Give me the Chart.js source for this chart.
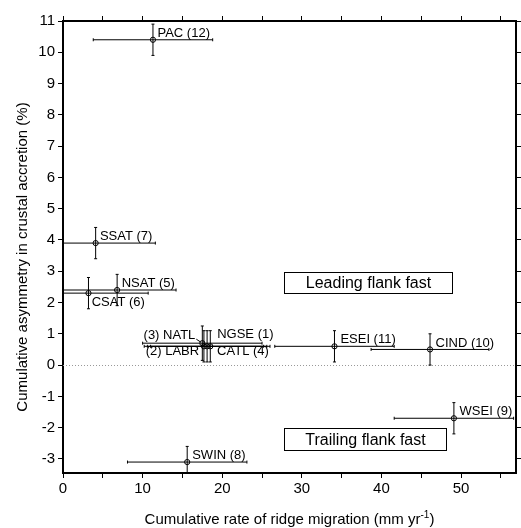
<!DOCTYPE html>
<html>
<head>
<meta charset="utf-8">
<script src="https://cdn.jsdelivr.net/npm/chart.js@4.4.1/dist/chart.umd.min.js"></script>
<style>
  html, body { margin: 0; padding: 0; background: #fff; }
  #wrap { width: 521px; height: 528px; }
</style>
</head>
<body>
<div id="wrap"><canvas id="chart" width="521" height="528"></canvas></div>
<script>
/* ---------- Data ---------- */
const sites = ['PAC (12)', 'SSAT (7)', 'NSAT (5)', 'CSAT (6)', '(3) NATL', '(2) LABR',
               'NGSE (1)', 'CATL (4)', 'ESEI (11)', 'CIND (10)', 'WSEI (9)', 'SWIN (8)'];
const rate    = [11.3, 4.1, 6.8, 3.2, 17.5, 17.7, 18.5, 18.1, 34.1, 46.1, 49.1, 15.6];
const rateErr = [7.5, 7.5, 7.4, 7.5, 7.5, 7.5, 7.5, 7.5, 7.5, 7.4, 7.5, 7.5];
const asym    = [10.4, 3.9, 2.4, 2.3, 0.7, 0.6, 0.6, 0.6, 0.6, 0.5, -1.7, -3.1];
const asymErr = [0.5, 0.5, 0.5, 0.5, 0.55, 0.5, 0.5, 0.5, 0.5, 0.5, 0.5, 0.5];

const xTicks = [0, 5, 10, 15, 20, 25, 30, 35, 40, 45, 50, 55];
const yTicks = [-3, -2, -1, 0, 1, 2, 3, 4, 5, 6, 7, 8, 9, 10, 11];

/* ---------- Label placement (pixel offsets from the point) ---------- */
const labelPos = [
    [4.5, -2.5, 'left'], [4.3, -3, 'left'], [4.5, -3.2, 'left'], [3.2, 13, 'left'],
    [-7, -4.5, 'right'], [-4.8, 8.8, 'right'], [6.9, -7.9, 'left'], [10, 8.8, 'left'],
    [5.9, -2.9, 'left'], [5.6, -2.1, 'left'], [5.7, -3.2, 'left'], [5, -3, 'left']
];
const boxes = [
    { text: 'Leading flank fast',  x0: 27.7, x1: 48.8, y0: 2.98,  y1: 2.32 },
    { text: 'Trailing flank fast', x0: 27.7, x1: 48.1, y0: -2.02, y1: -2.70 }
];

const FONT = '"Liberation Sans", Arial, sans-serif';

/* ---------- Plugin: error bars, zero line, labels, boxes, titles ---------- */
const extras = {
    id: 'extras',
    beforeDatasetsDraw(chart) {
        const { ctx, chartArea: a, scales: { x, y } } = chart;
        ctx.save();
        ctx.beginPath();
        ctx.rect(a.left, a.top, a.right - a.left, a.bottom - a.top);
        ctx.clip();

        // dotted zero line
        const y0 = Math.round(y.getPixelForValue(0)) + 0.5;
        ctx.strokeStyle = '#999';
        ctx.lineWidth = 1;
        ctx.setLineDash([1, 2]);
        ctx.beginPath();
        ctx.moveTo(a.left, y0);
        ctx.lineTo(a.right, y0);
        ctx.stroke();
        ctx.setLineDash([]);

        // error bars
        ctx.strokeStyle = '#000';
        ctx.lineWidth = 1;
        rate.forEach((r, i) => {
            const px = x.getPixelForValue(r);
            const py = y.getPixelForValue(asym[i]);
            const xl = x.getPixelForValue(r - rateErr[i]);
            const xr = x.getPixelForValue(r + rateErr[i]);
            const yt = y.getPixelForValue(asym[i] + asymErr[i]);
            const yb = y.getPixelForValue(asym[i] - asymErr[i]);
            ctx.beginPath();
            ctx.moveTo(xl, py); ctx.lineTo(xr, py);
            ctx.moveTo(xl, py - 1.5); ctx.lineTo(xl, py + 1.5);
            ctx.moveTo(xr, py - 1.5); ctx.lineTo(xr, py + 1.5);
            ctx.moveTo(px, yt); ctx.lineTo(px, yb);
            ctx.moveTo(px - 1.5, yt); ctx.lineTo(px + 1.5, yt);
            ctx.moveTo(px - 1.5, yb); ctx.lineTo(px + 1.5, yb);
            ctx.stroke();
        });
        ctx.restore();
    },
    afterDraw(chart) {
        const { ctx, chartArea: a, scales: { x, y } } = chart;
        ctx.save();
        ctx.fillStyle = '#000';
        ctx.strokeStyle = '#000';
        ctx.lineWidth = 1;

        // point labels
        ctx.font = '13px ' + FONT;
        ctx.textBaseline = 'alphabetic';
        sites.forEach((s, i) => {
            const px = x.getPixelForValue(rate[i]);
            const py = y.getPixelForValue(asym[i]);
            const [dx, dy, al] = labelPos[i];
            ctx.textAlign = al;
            ctx.fillText(s, px + dx, py + dy);
        });
        // leader for NATL
        {
            const px = x.getPixelForValue(rate[4]);
            const py = y.getPixelForValue(asym[4]);
            ctx.beginPath();
            ctx.moveTo(px - 6, py - 4);
            ctx.lineTo(px - 1.5, py - 1);
            ctx.stroke();
        }

        // annotation boxes
        ctx.font = '16px ' + FONT;
        ctx.textAlign = 'center';
        ctx.textBaseline = 'middle';
        boxes.forEach(b => {
            const l = Math.round(x.getPixelForValue(b.x0)) + 0.5;
            const r = Math.round(x.getPixelForValue(b.x1)) + 0.5;
            const t = Math.round(y.getPixelForValue(b.y0)) + 0.5;
            const bt = Math.round(y.getPixelForValue(b.y1)) + 0.5;
            ctx.fillStyle = '#fff';
            ctx.fillRect(l, t, r - l, bt - t);
            ctx.strokeRect(l, t, r - l, bt - t);
            ctx.fillStyle = '#000';
            ctx.fillText(b.text, (l + r) / 2, (t + bt) / 2 + 1);
        });

        // axis titles
        ctx.font = '15px ' + FONT;
        const cx = (a.left + a.right) / 2;
        const main = 'Cumulative rate of ridge migration (mm yr';
        ctx.textBaseline = 'alphabetic';
        ctx.textAlign = 'left';
        const wMain = ctx.measureText(main).width;
        ctx.font = '10px ' + FONT;
        const wSup = ctx.measureText('-1').width;
        ctx.font = '15px ' + FONT;
        const wEnd = ctx.measureText(')').width;
        let sx = cx - (wMain + wSup + wEnd) / 2;
        ctx.fillText(main, sx, 524);
        ctx.font = '10px ' + FONT;
        ctx.fillText('-1', sx + wMain, 518);
        ctx.font = '15px ' + FONT;
        ctx.fillText(')', sx + wMain + wSup, 524);

        ctx.translate(23, (a.top + a.bottom) / 2 + 10);
        ctx.rotate(-Math.PI / 2);
        ctx.textAlign = 'center';
        ctx.textBaseline = 'middle';
        ctx.fillText('Cumulative asymmetry in crustal accretion (%)', 0, 0);
        ctx.restore();
    }
};

/* ---------- Chart ---------- */
const tickFont = { family: FONT, size: 15 };
const axisBase = {
    type: 'linear',
    border: { display: true, color: '#000', width: 2 },
    grid: { display: true, drawOnChartArea: false, drawTicks: true, tickLength: 5, tickColor: '#000', tickWidth: 1 }
};

new Chart(document.getElementById('chart'), {
    type: 'scatter',
    data: {
        datasets: [{
            data: rate.map((r, i) => ({ x: r, y: asym[i] })),
            pointStyle: 'circle',
            pointRadius: 2.6,
            pointBorderWidth: 1,
            borderColor: '#000',
            backgroundColor: 'rgba(255,255,255,0)'
        }]
    },
    options: {
        responsive: false,
        animation: false,
        devicePixelRatio: 1,
        layout: { padding: { left: 0, top: 16, right: 0, bottom: 0 } },
        plugins: { legend: { display: false }, tooltip: { enabled: false } },
        scales: {
            x: {
                ...axisBase, position: 'bottom', min: 0, max: 56.9,
                afterBuildTicks: s => { s.ticks = xTicks.map(v => ({ value: v })); },
                afterFit: s => { s.height = 55; },
                ticks: { font: tickFont, color: '#000', padding: 2, maxRotation: 0, autoSkip: false,
                         callback: v => (v % 10 === 0 ? String(v) : '') }
            },
            y: {
                ...axisBase, position: 'left', min: -3.45, max: 11,
                afterBuildTicks: s => { s.ticks = yTicks.map(v => ({ value: v })); },
                afterFit: s => { s.width = 63; },
                ticks: { font: tickFont, color: '#000', padding: 3, autoSkip: false, callback: v => String(v) }
            },
            x2: {
                ...axisBase, position: 'top', min: 0, max: 56.9,
                afterBuildTicks: s => { s.ticks = xTicks.map(v => ({ value: v })); },
                afterFit: s => { s.height = 5; },
                ticks: { display: false }
            },
            y2: {
                ...axisBase, position: 'right', min: -3.45, max: 11,
                afterBuildTicks: s => { s.ticks = yTicks.map(v => ({ value: v })); },
                afterFit: s => { s.width = 5; },
                ticks: { display: false }
            }
        }
    },
    plugins: [extras]
});
</script>
</body>
</html>
